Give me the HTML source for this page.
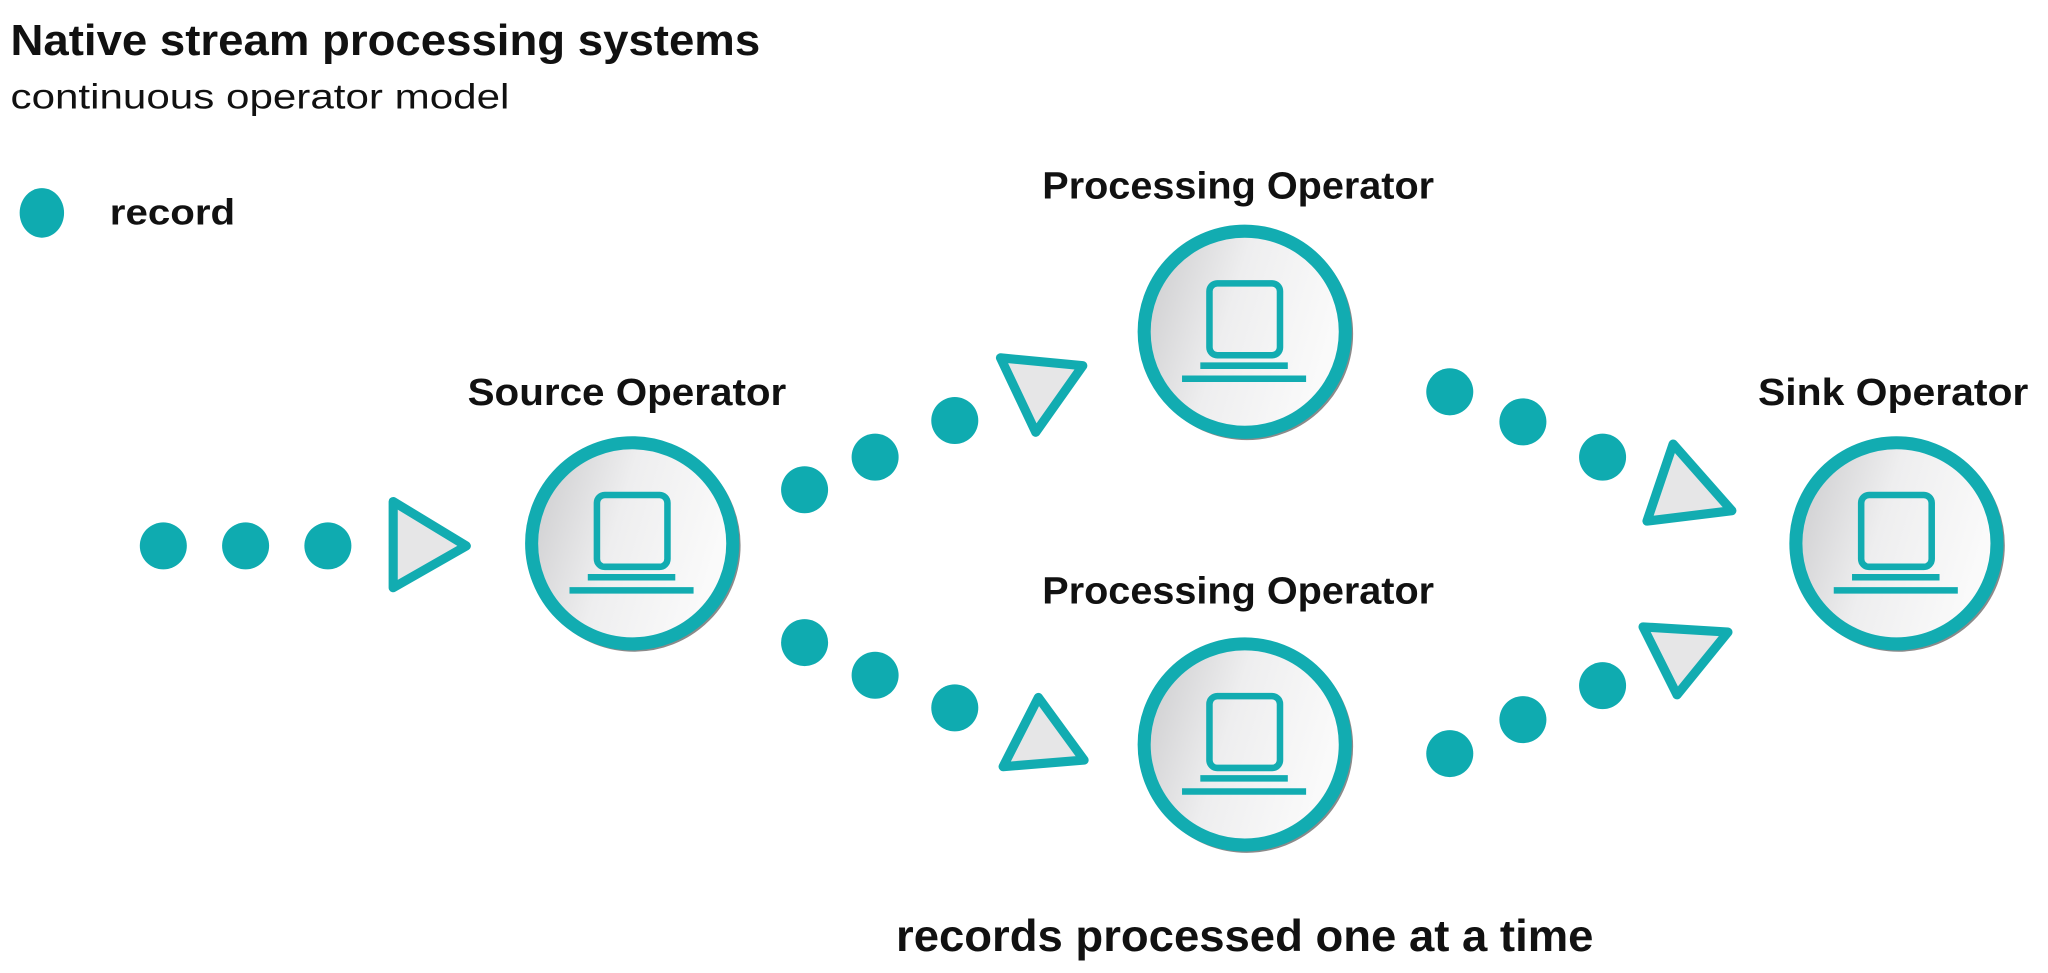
<!DOCTYPE html>
<html><head><meta charset="utf-8"><style>
html,body{margin:0;padding:0;background:#fff;}
svg{display:block;}
text{font-family:"Liberation Sans",sans-serif;fill:#111;}
</style></head><body>
<svg width="2048" height="973" viewBox="0 0 1568 745" xmlns="http://www.w3.org/2000/svg">
<defs>
<linearGradient id="g" x1="0" y1="0" x2="1" y2="0.3">
<stop offset="0" stop-color="#c9c9cb"/><stop offset="0.5" stop-color="#eeeeef"/><stop offset="1" stop-color="#fafafa"/>
</linearGradient>
<g id="node">
<circle r="80" fill="none" stroke="#8a8a8a" stroke-width="3" transform="translate(1.5,1.5)"/>
<circle r="77" fill="url(#g)" stroke="#12acb1" stroke-width="10"/>
<rect x="-27" y="-37" width="54" height="55" rx="6" fill="none" stroke="#12acb1" stroke-width="5"/>
<line x1="-34" y1="26" x2="33" y2="26" stroke="#12acb1" stroke-width="5"/>
<line x1="-48" y1="36" x2="47" y2="36" stroke="#12acb1" stroke-width="5"/>
</g>
</defs>
<text x="8" y="42" font-size="33" font-weight="bold" textLength="574" lengthAdjust="spacingAndGlyphs">Native stream processing systems</text>
<text x="8" y="83" font-size="27" textLength="382" lengthAdjust="spacingAndGlyphs">continuous operator model</text>
<ellipse cx="32" cy="163" rx="17" ry="19" fill="#0fabb0"/>
<text x="84" y="172" font-size="28" font-weight="bold" textLength="96" lengthAdjust="spacingAndGlyphs">record</text>

<g fill="#0fabb0">
<circle cx="125" cy="418" r="18"/><circle cx="188" cy="418" r="18"/><circle cx="251" cy="418" r="18"/>
<circle cx="616" cy="375" r="18"/><circle cx="670" cy="350" r="18"/><circle cx="731" cy="322" r="18"/>
<circle cx="616" cy="492" r="18"/><circle cx="670" cy="517" r="18"/><circle cx="731" cy="542" r="18"/>
<circle cx="1110" cy="300" r="18"/><circle cx="1166" cy="323" r="18"/><circle cx="1227" cy="350" r="18"/>
<circle cx="1110" cy="577" r="18"/><circle cx="1166" cy="551" r="18"/><circle cx="1227" cy="525" r="18"/>
</g>
<g fill="#e6e6e7" stroke="#12acb1" stroke-width="7" stroke-linejoin="round">
<polygon points="301,384 357,418 301,450"/>
<polygon points="766,274 829,280 793,331"/>
<polygon points="795,534 830,582 768,587"/>
<polygon points="1281,340 1326,391 1261,399"/>
<polygon points="1258,480 1323,484 1284,532"/>
</g>
<use href="#node" x="484" y="416"/>
<use href="#node" x="953" y="254"/>
<use href="#node" x="953" y="570"/>
<use href="#node" x="1452" y="416"/>
<g font-size="29" font-weight="bold" lengthAdjust="spacingAndGlyphs">
<text x="358" y="310" textLength="244" lengthAdjust="spacingAndGlyphs">Source Operator</text>
<text x="798" y="152" textLength="300" lengthAdjust="spacingAndGlyphs">Processing Operator</text>
<text x="798" y="462" textLength="300" lengthAdjust="spacingAndGlyphs">Processing Operator</text>
<text x="1346" y="310" textLength="207" lengthAdjust="spacingAndGlyphs">Sink Operator</text>
</g>
<text x="686" y="728" font-size="34" font-weight="bold" textLength="534" lengthAdjust="spacingAndGlyphs">records processed one at a time</text>
</svg>
</body></html>
